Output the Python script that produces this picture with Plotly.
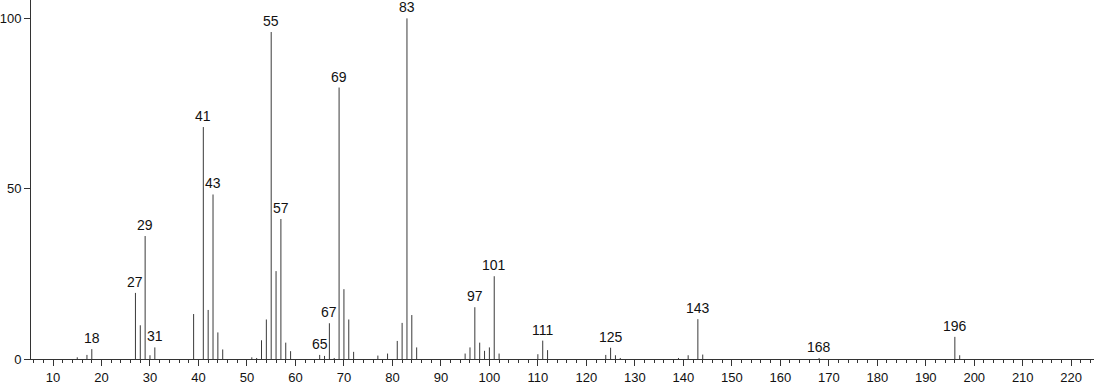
import plotly.graph_objects as go

mz = [15, 17, 18, 27, 28, 29, 30, 31, 39, 41, 42, 43, 44, 45,
      51, 52, 53, 54, 55, 56, 57, 58, 59, 65, 66, 67, 68, 69, 70, 71, 72,
      77, 79, 81, 82, 83, 84, 85, 95, 96, 97, 98, 99, 100, 101, 102,
      110, 111, 112, 124, 125, 126, 127, 139, 141, 143, 144, 168, 196, 197]
intensity = [0.5, 1.2, 2.9, 19.4, 9.9, 36.1, 1.1, 3.4, 13.2, 68.1, 14.4, 48.3, 7.8, 2.8,
             0.5, 0.3, 5.5, 11.6, 96.0, 25.8, 41.1, 4.8, 2.3, 1.2, 0.9, 10.5, 0.3, 79.7, 20.5, 11.6, 2.1,
             1.0, 1.6, 5.3, 10.6, 100.0, 12.9, 3.4, 1.6, 3.4, 15.2, 4.8, 2.4, 3.4, 24.3, 1.6,
             1.4, 5.4, 2.6, 1.2, 3.3, 1.1, 0.3, 0.3, 1.1, 11.7, 1.3, 0.3, 6.5, 1.1]
labeled = [18, 27, 29, 31, 41, 43, 55, 57, 65, 67, 69, 83, 97, 101, 111, 125, 143, 168, 196]

xs, ys = [], []
for m, v in zip(mz, intensity):
    xs += [m, m, None]
    ys += [0, v, None]

fig = go.Figure()
fig.add_trace(go.Scatter(x=xs, y=ys, mode="lines",
                         line=dict(color="#3a3a3a", width=1),
                         hoverinfo="skip", showlegend=False))

lookup = dict(zip(mz, intensity))
for m in labeled:
    fig.add_annotation(x=m, y=lookup[m], text=str(m), showarrow=False,
                       yanchor="bottom", yshift=1,
                       font=dict(family="Liberation Sans, Arial, sans-serif", size=14, color="#111"))

fig.update_layout(
    width=1094, height=384,
    margin=dict(l=31, r=0, t=0, b=25),
    paper_bgcolor="white", plot_bgcolor="white",
    font=dict(family="Liberation Sans, Arial, sans-serif", size=13, color="#111"),
    showlegend=False,
)
fig.update_xaxes(range=[5.46, 224.7], tick0=0, dtick=10, ticks="outside", ticklen=6,
                 tickcolor="#333", showline=True, linecolor="#333", linewidth=1,
                 showgrid=False, zeroline=False, automargin=False,
                 tickfont=dict(size=13),
                 minor=dict(dtick=2, tick0=0, ticks="outside", ticklen=3, tickcolor="#333", showgrid=False))
fig.update_yaxes(range=[0, 105.4], tickvals=[0, 50, 100], ticks="outside", ticklen=6,
                 tickcolor="#333", showline=True, linecolor="#333", linewidth=1,
                 showgrid=False, zeroline=False, automargin=False,
                 tickfont=dict(size=13))

fig.write_html("out.html")
